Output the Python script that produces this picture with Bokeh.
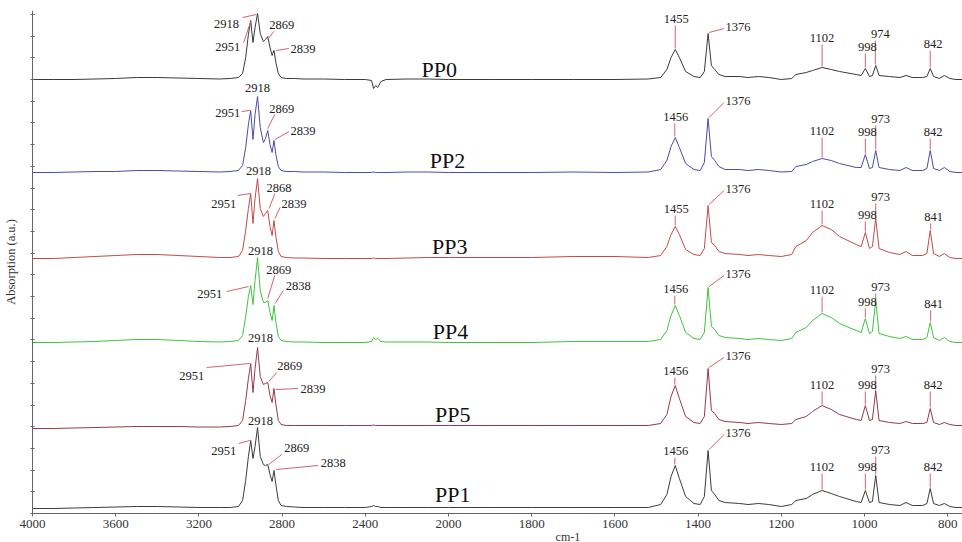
import numpy as np
from bokeh.plotting import figure
from bokeh.models import FixedTicker, Range1d, CustomJSTickFormatter
from bokeh.core.properties import value
from bokeh.embed import file_html
from bokeh.resources import INLINE

# Wavenumber grid (cm-1) shared by all six spectra
wavenumber = [
    4000, 3900, 3800, 3700, 3600, 3500, 3400, 3300, 3200, 3100, 3050, 3010,
    2990, 2975, 2962, 2951, 2940, 2930, 2918, 2905, 2890, 2880, 2869, 2858, 2848, 2839, 2830, 2818, 2805,
    2780, 2740, 2700, 2600, 2500, 2400, 2370, 2360, 2350, 2340, 2325, 2300, 2200, 2100, 2000,
    1900, 1800, 1700, 1600, 1520, 1490, 1475, 1465, 1455, 1445, 1430, 1410, 1395, 1385, 1376, 1368, 1360, 1350, 1335,
    1300, 1280, 1255, 1230, 1200, 1175, 1165, 1140, 1125, 1102, 1080, 1060, 1020, 1008, 998, 988, 981, 973, 965, 940,
    915, 900, 885, 860, 850, 842, 834, 820, 808, 795, 780, 762,
]

# Absorption (a.u.) of each sample above its own baseline
pp0 = [
    0, 0, 0, 0.5, 1, 2, 2, 1.5, 1, 0.5, 1, 2,
    6, 22, 45, 59, 37, 52, 66, 46, 38, 40, 43, 32, 24, 29, 17, 6, 2,
    1, 1, 0.5, 0.5, 0, 0, -1, -9, -6, -8, -2, 0, 0.5, 0.5, 0,
    0, 0, 0, 0, 0.5, 2, 10, 22, 30, 22, 8, 3, 2, 8, 46, 14, 10, 5, 3,
    3, 2, 3, 2, 0, 1, 5, 7, 9, 12, 10, 8, 5, 4, 11, 3, 4, 14, 4, 3,
    2, 4, 2, 2, 3, 11, 3, 1, 4, 1, 0, 0,
]
pp2 = [
    0, 0, 0.5, 1, 1, 2, 2, 1.5, 1, 0.5, 1, 2,
    7, 25, 48, 62, 33, 58, 76, 45, 30, 34, 42, 28, 20, 32, 18, 6, 2,
    1, 1, 0.5, 0.5, 0, 0, 0, 0.5, 0, 0, 0, 0, 0.5, 0.5, 0,
    0, 0, 0.5, 0, 0.5, 3, 12, 26, 35, 25, 9, 3, 2, 10, 54, 16, 12, 6, 3,
    3, 2, 3, 2, 0.5, 1, 6, 8, 11, 14, 12, 9, 5, 5, 18, 4, 5, 22, 5, 3,
    2, 5, 2, 2, 4, 22, 4, 2, 5, 1, 0, 0,
]
pp3 = [
    0, 0, 1, 2, 3, 4, 4, 3, 2, 1, 1, 2,
    8, 28, 50, 65, 35, 60, 80, 50, 42, 45, 48, 32, 23, 38, 22, 7, 2,
    1, 0.5, 0.5, 0, 0, 0, 0, 0.5, 0, 0, 0, 0, 0.5, 1, 1,
    1, 1, 2, 2, 1, 3, 12, 24, 32, 24, 9, 4, 3, 10, 53, 16, 13, 7, 5,
    4, 3, 4, 3, 2, 4, 12, 18, 26, 33, 29, 22, 14, 12, 26, 10, 12, 40, 10, 6,
    4, 7, 3, 3, 5, 28, 5, 2, 5, 1, 0, 0,
]
pp4 = [
    0, 0, 0.5, 1, 2, 3, 3, 2, 1, 0.5, 1, 2,
    7, 26, 46, 57, 38, 62, 85, 52, 40, 40, 42, 30, 22, 37, 20, 6, 2,
    1, 0.5, 0.5, 0, 0, 0, 1, 5, 3, 4, 1, 0.5, 0.5, 0.5, 0,
    0, 0, 1, 1, 1, 3, 12, 27, 37, 27, 10, 4, 3, 10, 55, 16, 13, 7, 5,
    4, 3, 4, 3, 2, 4, 10, 15, 22, 29, 25, 19, 12, 10, 24, 9, 11, 42, 9, 6,
    4, 6, 3, 3, 5, 20, 5, 2, 5, 1, 0, 0,
]
pp5 = [
    0, 0, 0.5, 1, 1.5, 2, 2, 2, 1.5, 1.5, 2, 3,
    8, 28, 50, 65, 36, 60, 81, 52, 44, 45, 46, 33, 26, 40, 24, 8, 4,
    3, 3, 3, 3, 3, 3, 3, 3.5, 3, 3, 3, 3, 3, 3, 3,
    3, 3, 3, 3, 3, 5, 14, 32, 43, 30, 12, 6, 5, 12, 60, 18, 15, 9, 7,
    6, 5, 6, 5, 4, 5, 9, 12, 17, 23, 19, 14, 9, 8, 23, 8, 9, 38, 8, 6,
    5, 7, 5, 5, 6, 20, 6, 4, 6, 4, 3, 3,
]
pp1 = [
    0, 0, 0.5, 1, 1.5, 2, 2, 1.5, 1, 1, 1, 2,
    8, 28, 52, 68, 50, 62, 81, 52, 44, 43, 44, 34, 27, 38, 24, 8, 3,
    2, 1.5, 1, 1, 1, 1, 2, 3, 2, 2, 1, 1, 1, 1, 1,
    1, 1, 1, 1, 1, 4, 14, 32, 43, 30, 12, 5, 4, 12, 58, 18, 14, 8, 6,
    5, 4, 5, 4, 2, 4, 8, 10, 14, 18, 15, 12, 7, 6, 18, 6, 7, 33, 6, 4,
    3, 6, 3, 3, 5, 20, 5, 3, 5, 2, 1, 1,
]

sample_names = ["PP0", "PP2", "PP3", "PP4", "PP5", "PP1"]
sample_offsets = [434, 341, 255, 171, 85, 5]
sample_values = [pp0, pp2, pp3, pp4, pp5, pp1]
sample_colors = ["#3a3a3a", "#4b4bab", "#c44a4a", "#3fc43f", "#953a4a", "#3c3c3c"]

# Labelled band positions per sample (cm-1)
peaks_pp0 = [2951, 2918, 2869, 2839, 1455, 1376, 1102, 998, 974, 842]
peaks_pp2 = [2951, 2918, 2869, 2839, 1456, 1376, 1102, 998, 973, 842]
peaks_pp3 = [2951, 2918, 2868, 2839, 1455, 1376, 1102, 998, 973, 841]
peaks_pp4 = [2951, 2918, 2869, 2838, 1456, 1376, 1102, 998, 973, 841]
peaks_pp5 = [2951, 2918, 2869, 2839, 1456, 1376, 1102, 998, 973, 842]
peaks_pp1 = [2951, 2918, 2869, 2838, 1456, 1376, 1102, 998, 973, 842]
sample_peaks = [peaks_pp0, peaks_pp2, peaks_pp3, peaks_pp4, peaks_pp5, peaks_pp1]

tick_wavenumbers = [4000, 3600, 3200, 2800, 2400, 2000, 1800, 1600, 1400, 1200, 1000, 800]
x_title = "cm-1"
y_title = "Absorption (a.u.)"

# ---- layout ------------------------------------------------------------
PX_X = 0.208              # pixels per axis unit
X_START = -32 / PX_X      # room left of 4000 cm-1 for the y axis title
X_END = X_START + 962 / PX_X
Y_LOW, Y_TOP = -29, 503   # 1 a.u. per pixel; the x axis sits at 0
PX_Y = 1.0
FONT = "'Liberation Serif', 'Times New Roman', serif"


def expand(w):
    """Half-expanded wavenumber axis: the region below 2000 cm-1 is stretched 2x."""
    w = np.asarray(w, dtype=float)
    return np.where(w >= 2000, 4000 - w, 2000 + 2 * (2000 - w))


# Label placement per band: (text dx, text dy, leader) in screen pixels relative
# to the band top (dy positive = downwards). leader None -> vertical drop line,
# "-" -> no leader, tuple -> (x0, y0, x1, y1).
label_layout = [
    [(-23, 26, (0, 1, -7, 22)), (-31, 10, (-1, 1, -15, 4)), (14, -12, (0, 3, 6, -5)),
     (29, -2, (2, 0, 15, -2)), (1, -31, None), (30, -7, (1, -1, 16, -5)),
     (0, -30, None), (2, -22, None), (5, -32, None), (3, -25, None)],
    [(-23, 2, (-1, 0, -9, 1)), (0, -9, "-"), (14, -22, (0, -2, 7, -16)),
     (29, -10, (1, -1, 15, -9)), (1, -21, None), (30, -18, (1, -1, 16, -16)),
     (0, -28, None), (2, -23, None), (5, -32, None), (3, -19, None)],
    [(-27, 10, (0, 0, -13, 2)), (1, -8, "-"), (11, -23, (1, -2, 7, -17)),
     (20, -17, (1, -2, 6, -13)), (1, -18, None), (30, -17, (1, -1, 16, -15)),
     (0, -22, None), (2, -18, None), (5, -22, None), (3, -14, None)],
    [(-41, 8, (-2, 1, -24, 6)), (3, -7, "-"), (11, -31, (0, -2, 7, -25)),
     (24, -20, (1, -2, 9, -15)), (1, -17, None), (30, -14, (1, -1, 16, -12)),
     (0, -24, None), (2, -17, None), (5, -14, None), (3, -19, None)],
    [(-59, 12, (-1, 0, -44, 4)), (3, -10, "-"), (22, -17, (1, -1, 9, -10)),
     (39, 0, (2, 1, 24, 0)), (1, -15, None), (30, -13, (1, -1, 16, -11)),
     (0, -21, None), (2, -21, None), (5, -22, None), (3, -24, None)],
    [(-27, 10, (-1, 0, -12, 3)), (3, -7, "-"), (29, -17, (1, 0, 14, -10)),
     (59, -8, (2, -1, 44, -5)), (1, -15, None), (30, -18, (1, -1, 16, -16)),
     (0, -24, None), (2, -24, None), (5, -26, None), (3, -22, None)],
]

# Sample name anchors: (wavenumber, height above baseline)
name_anchor = [(2045, 10), (2005, 12), (1997, 12), (1995, 11), (1990, 14), (1990, 14)]

p = figure(width=962, height=542, output_backend="svg", toolbar_location=None,
           x_range=Range1d(X_START, X_END), y_range=Range1d(Y_LOW, Y_TOP),
           min_border_left=0, min_border_right=0, min_border_top=10, min_border_bottom=0)
p.outline_line_color = None
p.grid.visible = False
p.background_fill_color = "white"

grid_x = expand(wavenumber)
wn_arr = np.array(wavenumber)
LEADER = "#d9606f"

for name, vals, off, col, peaks, lay, anc in zip(sample_names, sample_values, sample_offsets,
                                                  sample_colors, sample_peaks, label_layout, name_anchor):
    y = off + np.array(vals, dtype=float)
    p.line(grid_x, y, line_color=col, line_width=1.0)

    tx, ty, tt = [], [], []
    sx0, sy0, sx1, sy1 = [], [], [], []
    for pk, (dx, dy, lead) in zip(peaks, lay):
        i = int(np.argmin(np.abs(wn_arr - pk)))
        px = float(expand(pk))
        py = y[i]
        tx.append(px + dx / PX_X)
        ty.append(py - dy / PX_Y)
        tt.append(str(pk))
        if lead == "-":
            continue
        if lead is None:
            lead = (0, -1, 0, dy + 7)
        x0, y0, x1, y1 = lead
        sx0.append(px + x0 / PX_X)
        sy0.append(py - y0 / PX_Y)
        sx1.append(px + x1 / PX_X)
        sy1.append(py - y1 / PX_Y)
    p.segment(sx0, sy0, sx1, sy1, line_color=LEADER, line_width=1)
    p.text(tx, ty, text=tt, text_font=value(FONT), text_font_size="12.5px",
           text_align="center", text_baseline="middle", text_color="#222222")
    p.text([float(expand(anc[0]))], [off + anc[1]], text=[name], text_font=value(FONT),
           text_font_size="22px", text_align="center", text_baseline="middle",
           text_color="#111111")

# x axis pinned at zero inside the frame; tick labels show the wavenumbers
tick_pos = [int(v) for v in expand(tick_wavenumbers)]
p.xaxis.fixed_location = 0
p.xaxis.bounds = (0, X_END)
p.xaxis.ticker = FixedTicker(ticks=tick_pos)
p.xaxis.major_label_overrides = {t: str(w) for t, w in zip(tick_pos, tick_wavenumbers)}
p.xaxis.major_label_text_font = FONT
p.xaxis.major_label_text_font_size = "13px"
p.xaxis.major_label_text_color = "#333333"
p.xaxis.major_label_standoff = 3
p.xaxis.major_tick_in = 0
p.xaxis.major_tick_out = 3
p.xaxis.minor_tick_line_color = None
p.xaxis.axis_line_color = "#666666"
p.xaxis.major_tick_line_color = "#666666"

# x title sits below the tick labels, right of centre
p.text([float(expand(1713))], [-23], text=[x_title], text_font=value(FONT),
       text_font_size="12px", text_color="#333333", text_align="center",
       text_baseline="middle")

# y axis pinned at 4000 cm-1: unlabelled ticks only
p.yaxis.fixed_location = 0
p.yaxis.bounds = (0, Y_TOP)
p.yaxis.ticker = FixedTicker(ticks=list(np.arange(0, Y_TOP, 21.7)))
p.yaxis.formatter = CustomJSTickFormatter(code="return ''")
p.yaxis.major_label_standoff = 0
p.yaxis.major_tick_in = 2
p.yaxis.major_tick_out = 2
p.yaxis.minor_tick_line_color = None
p.yaxis.axis_line_color = "#666666"
p.yaxis.major_tick_line_color = "#666666"
p.yaxis.axis_label = y_title
p.yaxis.axis_label_text_font = FONT
p.yaxis.axis_label_text_font_size = "12.5px"
p.yaxis.axis_label_text_font_style = "normal"
p.yaxis.axis_label_text_color = "#333333"
p.yaxis.axis_label_standoff = 13

open("out.html", "w").write(file_html(p, INLINE))
